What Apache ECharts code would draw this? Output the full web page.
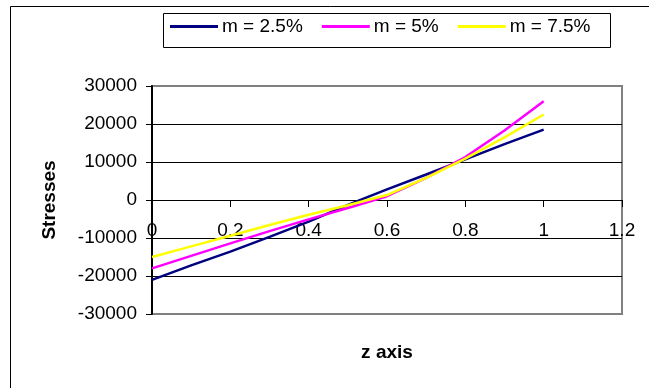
<!DOCTYPE html>
<html>
<head>
<meta charset="utf-8">
<script src="https://cdn.jsdelivr.net/npm/echarts@6/dist/echarts.min.js"></script>
<style>
  html, body { margin: 0; padding: 0; background: #fff; }
  #chart { width: 649px; height: 388px; }
</style>
</head>
<body>
<div id="chart"></div>
<script>
// Position through the thickness (z) and stress at each point
const zValues = [0, 0.1, 0.2, 0.3, 0.4, 0.5, 0.6, 0.7, 0.8, 0.9, 1.0];
const stressM25 = [-21000, -17200, -13600, -9700, -5700, -1300, 2800, 6700, 10700, 14700, 18500];
const stressM5  = [-18000, -14700, -11400, -8200, -5100, -2100, 1000, 5800, 11300, 18300, 26000];
const stressM75 = [-15000, -12200, -9400, -6600, -3900, -1400, 1300, 5800, 10900, 16500, 22500];
const seriesNames = ['m = 2.5%', 'm = 5%', 'm = 7.5%'];
const seriesColors = ['#000080', '#FF00FF', '#FFFF00'];

const FONT = 'Liberation Sans, Arial, sans-serif';
const pairs = ys => zValues.map((z, i) => [z, ys[i]]);

// plot box (pixels from the canvas edges)
const GRID = { left: 152, right: 27, top: 86, bottom: 74 };
// the horizontal axis sits at stress = 0, i.e. half-way up the symmetric range
const plotHeight = 388 - GRID.top - GRID.bottom;
const zeroOffset = -plotHeight * (0 - (-30000)) / 60000;

const chart = echarts.init(document.getElementById('chart'), null, { renderer: 'canvas' });
chart.setOption({
  animation: false,
  backgroundColor: '#ffffff',
  graphic: [
    {
      type: 'rect',
      shape: { x: 10.5, y: 6.5, width: 800, height: 600 },
      style: { fill: 'none', stroke: '#000', lineWidth: 1 },
      silent: true, z: -10
    },
    {
      type: 'rect',
      shape: { x: 163.5, y: 13.5, width: 447, height: 34 },
      style: { fill: '#fff', stroke: '#000', lineWidth: 1 },
      silent: true, z: -5
    }
  ],
  legend: {
    left: 170,
    top: 17,
    padding: 0,
    itemGap: 19,
    itemWidth: 48,
    itemHeight: 3,
    icon: 'rect',
    textStyle: { fontFamily: FONT, fontSize: 19, color: '#000', padding: [0, 0, 0, -1] },
    data: seriesNames
  },
  grid: Object.assign({
    containLabel: false,
    outerBoundsMode: 'none',
    show: true, borderColor: '#808080', borderWidth: 2, backgroundColor: '#fff'
  }, GRID),
  xAxis: {
    type: 'value',
    position: 'bottom',
    offset: zeroOffset,
    min: 0, max: 1.2, interval: 0.2,
    name: 'z axis',
    nameLocation: 'middle',
    nameGap: 143,
    nameTextStyle: { fontFamily: FONT, fontSize: 19, fontWeight: 'bold', color: '#000' },
    axisLine: { show: true, onZero: false, lineStyle: { color: '#000', width: 1 } },
    axisTick: { show: true, inside: false, length: 7, lineStyle: { color: '#000' } },
    axisLabel: { fontFamily: FONT, fontSize: 19, color: '#000', margin: 21, formatter: v => String(+v.toFixed(1)) },
    splitLine: { show: false }
  },
  yAxis: {
    type: 'value',
    min: -30000, max: 30000, interval: 10000,
    name: 'Stresses',
    nameLocation: 'middle',
    nameRotate: 90,
    nameGap: 93,
    nameTextStyle: { fontFamily: FONT, fontSize: 19, fontWeight: 'bold', color: '#000' },
    axisLine: { show: true, onZero: false, lineStyle: { color: '#000', width: 2 } },
    axisTick: { show: true, length: 6, lineStyle: { color: '#000' } },
    axisLabel: { fontFamily: FONT, fontSize: 19, color: '#000', margin: 15, formatter: v => String(v) },
    splitLine: {
      show: true,
      lineStyle: { color: ['#808080', '#000', '#000', '#000', '#000', '#000', '#808080'], width: 1 }
    }
  },
  series: [stressM25, stressM5, stressM75].map((ys, i) => ({
    name: seriesNames[i],
    type: 'line',
    data: pairs(ys),
    showSymbol: false,
    symbol: 'none',
    color: seriesColors[i],
    lineStyle: { color: seriesColors[i], width: 2.5 },
    z: 3
  }))
});
</script>
</body>
</html>
